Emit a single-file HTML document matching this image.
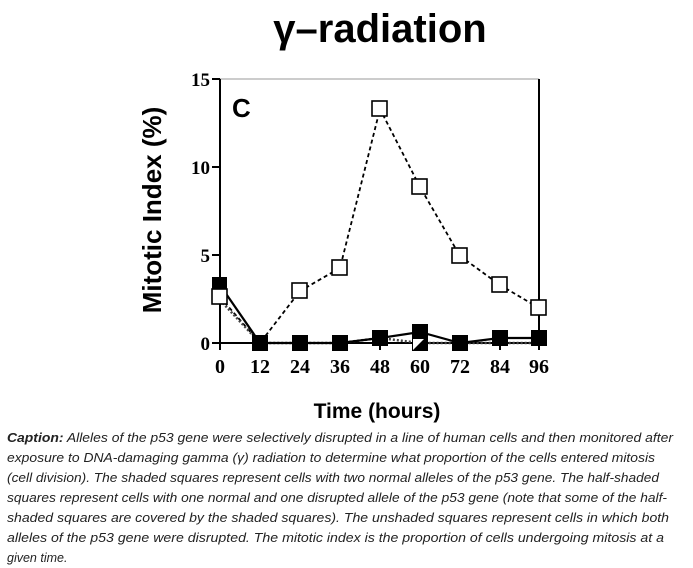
<!DOCTYPE html>
<html><head><meta charset="utf-8"><style>
html,body{margin:0;padding:0;background:#fff;}
svg{display:block;}
</style></head><body>
<svg width="693" height="568" viewBox="0 0 693 568" xmlns="http://www.w3.org/2000/svg">
<text x="380" y="42" text-anchor="middle" font-family="Liberation Sans, sans-serif" font-weight="bold" font-size="40">γ–radiation</text>
<text transform="translate(161,210) rotate(-90)" text-anchor="middle" font-family="Liberation Sans, sans-serif" font-weight="bold" font-size="26">Mitotic Index (%)</text>
<text x="377" y="418" text-anchor="middle" font-family="Liberation Sans, sans-serif" font-weight="bold" font-size="21">Time (hours)</text>
<line x1="220" y1="79" x2="539" y2="79" stroke="#999" stroke-width="1"/>
<line x1="220" y1="79" x2="220" y2="343" stroke="#000" stroke-width="2"/>
<line x1="539" y1="79" x2="539" y2="343" stroke="#000" stroke-width="2"/>
<line x1="212" y1="343" x2="539" y2="343" stroke="#000" stroke-width="2"/>
<g stroke="#000" stroke-width="2">
<line x1="212" y1="79" x2="220" y2="79"/><line x1="212" y1="167" x2="220" y2="167"/><line x1="212" y1="255" x2="220" y2="255"/>
<line x1="220" y1="343" x2="220" y2="350"/><line x1="260" y1="343" x2="260" y2="350"/><line x1="300" y1="343" x2="300" y2="350"/><line x1="340" y1="343" x2="340" y2="350"/><line x1="380" y1="343" x2="380" y2="350"/><line x1="420" y1="343" x2="420" y2="350"/><line x1="460" y1="343" x2="460" y2="350"/><line x1="500" y1="343" x2="500" y2="350"/><line x1="539" y1="343" x2="539" y2="350"/>
</g>
<g font-family="Liberation Serif, serif" font-weight="bold" font-size="19" text-anchor="end">
<text x="210" y="86">15</text><text x="210" y="174">10</text><text x="210" y="262">5</text><text x="210" y="350">0</text>
</g>
<g font-family="Liberation Serif, serif" font-weight="bold" font-size="20" text-anchor="middle">
<text x="220" y="373">0</text><text x="260" y="373">12</text><text x="300" y="373">24</text><text x="340" y="373">36</text><text x="380" y="373">48</text><text x="420" y="373">60</text><text x="460" y="373">72</text><text x="500" y="373">84</text><text x="539" y="373">96</text>
</g>
<text x="232" y="117" font-family="Liberation Sans, sans-serif" font-weight="bold" font-size="26">C</text>
<polyline fill="none" stroke="#000" stroke-width="1.8" stroke-dasharray="4,3" points="220,297 260,343 300,291 340,268 380,109 420,187 460,256 500,285 539,308"/>
<polyline fill="none" stroke="#444" stroke-width="2.5" stroke-dasharray="2,2" points="220,300 260,343 300,343 340,343 380,338 420,343 460,343 500,343 539,343"/>
<polyline fill="none" stroke="#000" stroke-width="2.2" points="220,285 260,343 300,343 340,343 380,338 420,332 460,343 500,338 539,338"/>
<g fill="#fff" stroke="#000" stroke-width="1.6">
<rect x="212" y="289" width="15" height="15"/>
<rect x="292" y="283" width="15" height="15"/><rect x="332" y="260" width="15" height="15"/><rect x="372" y="101" width="15" height="15"/><rect x="412" y="179" width="15" height="15"/><rect x="452" y="248" width="15" height="15"/><rect x="492" y="277" width="15" height="15"/><rect x="531" y="300" width="15" height="15"/>
</g>
<g fill="#000">
<rect x="212" y="277" width="15" height="12"/>
<rect x="252" y="335" width="16" height="16"/><rect x="292" y="335" width="16" height="16"/><rect x="332" y="335" width="16" height="16"/><rect x="372" y="330" width="16" height="16"/><rect x="412" y="324" width="16" height="16"/><rect x="452" y="335" width="16" height="16"/><rect x="492" y="330" width="16" height="16"/><rect x="531" y="330" width="16" height="16"/>
<rect x="412" y="338" width="16" height="13"/><polygon points="413,350 424,339 413,339" fill="#fff"/>
</g>
<g font-family="Liberation Sans, sans-serif" font-style="italic" font-size="12.5" fill="#222">
<text x="7" y="442" textLength="666" lengthAdjust="spacingAndGlyphs"><tspan font-weight="bold">Caption:</tspan> Alleles of the p53 gene were selectively disrupted in a line of human cells and then monitored after</text>
<text x="7" y="462" textLength="648" lengthAdjust="spacingAndGlyphs">exposure to DNA-damaging gamma (γ) radiation to determine what proportion of the cells entered mitosis</text>
<text x="7" y="482" textLength="652" lengthAdjust="spacingAndGlyphs">(cell division). The shaded squares represent cells with two normal alleles of the p53 gene. The half-shaded</text>
<text x="7" y="502" textLength="660" lengthAdjust="spacingAndGlyphs">squares represent cells with one normal and one disrupted allele of the p53 gene (note that some of the half-</text>
<text x="7" y="522" textLength="662" lengthAdjust="spacingAndGlyphs">shaded squares are covered by the shaded squares). The unshaded squares represent cells in which both</text>
<text x="7" y="542" textLength="657" lengthAdjust="spacingAndGlyphs">alleles of the p53 gene were disrupted. The mitotic index is the proportion of cells undergoing mitosis at a</text>
<text x="7" y="562">given time.</text>
</g>
</svg>
</body></html>
